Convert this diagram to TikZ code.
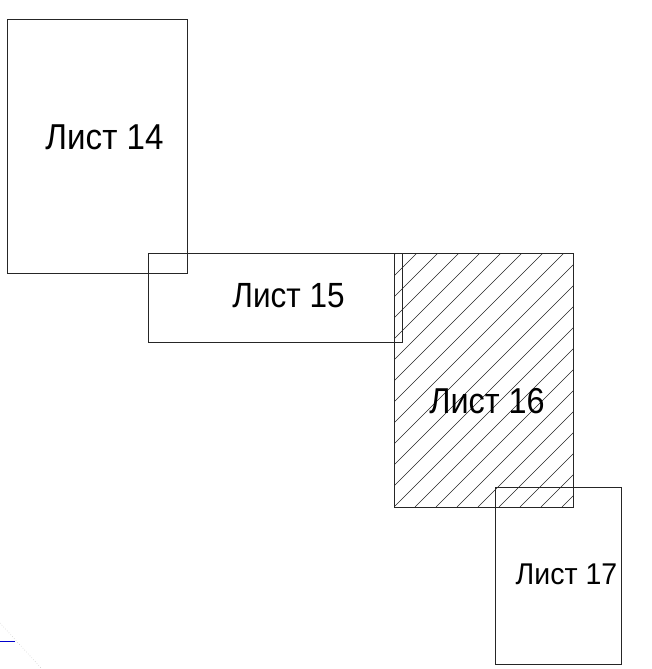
\documentclass[tikz,border=0pt]{standalone}
\usepackage{fontspec}
\setmainfont{Liberation Sans}
\tikzset{
  sheet/.style={draw=black!85, line width=0.8pt},
  hatchline/.style={draw=black!85, line width=0.6pt},
  sheetlabel/.style={anchor=base, inner sep=0pt},
}
\begin{document}
\begin{tikzpicture}[x=1pt,y=-1pt]
\useasboundingbox (0,0) rectangle (651,669);
% hatched sheet 16
\begin{scope}
\clip (394,253) rectangle (573,507);
\foreach \k in {-13,...,9}
  \draw[hatchline] (394+21*\k,507) -- ++(300,-300);
\end{scope}
\draw[sheet] (394,253) rectangle (573,507);
% other sheets
\draw[sheet] (7,19) rectangle (187,273);
\draw[sheet] (148,253) rectangle (402,342);
\draw[sheet] (495,487) rectangle (621,664);
% labels
\node[sheetlabel, xscale=.92, font=\fontsize{36}{40}\selectfont] (l14) at (104.5,149) {Лист 14};
\node[sheetlabel, xscale=.9, font=\fontsize{35}{40}\selectfont] (l15) at (288.5,307) {Лист 15};
\node[sheetlabel, xscale=.9, font=\fontsize{36}{40}\selectfont] (l16) at (487,413) {Лист 16};
\node[sheetlabel, xscale=.95, font=\fontsize{30}{36}\selectfont] (l17) at (566.5,584) {Лист 17};
% stray marks bottom left
\draw[blue!80!black, line width=0.8pt] (0,641.5) -- (15,641.5);
\draw[black!20, dotted, line width=0.6pt] (0,623) -- (42,669);
\end{tikzpicture}
\end{document}
